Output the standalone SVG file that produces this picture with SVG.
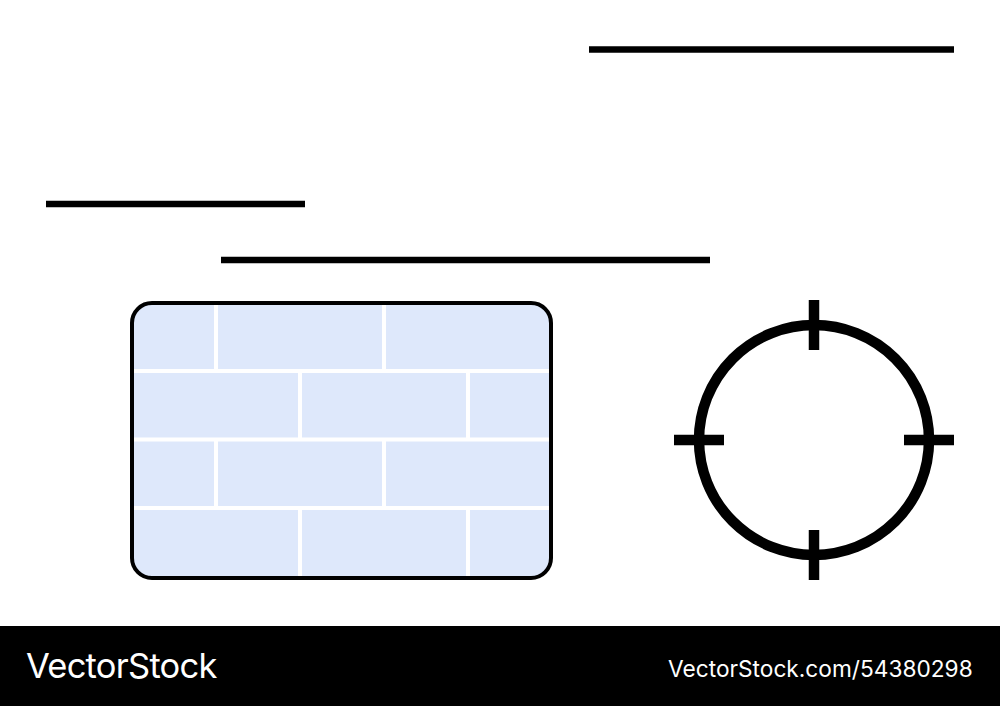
<svg xmlns="http://www.w3.org/2000/svg" width="1000" height="706" viewBox="0 0 1000 706">
<style>
.bar{stroke:#000;stroke-width:6.500;fill:none}
.tick{stroke:#000;stroke-width:10.500;fill:none}
.mortar{stroke:#fff;stroke-width:4;fill:none}
.wm{fill:#fff;font-family:Inter,"Liberation Sans",Arial,sans-serif}
</style>
<defs><clipPath id="wallClip"><rect x="132" y="303" width="419" height="275" rx="20"/></clipPath></defs>
<rect width="1000" height="706" fill="#fff"/>
<g id="lines">
<line class="bar" x1="589" y1="49.500" x2="954" y2="49.500"/>
<line class="bar" x1="46" y1="204" x2="305" y2="204"/>
<line class="bar" x1="221" y1="260" x2="710" y2="260"/>
</g>
<g id="wall">
<rect x="132" y="303" width="419" height="275" rx="20" fill="#dee8fb"/>
<g clip-path="url(#wallClip)">
<path class="mortar" d="M132 371H551M132 439.500H551M132 508H551M216 303V371M384 303V371M300 371V439.500M468 371V439.500M216 439.500V508M384 439.500V508M300 508V578M468 508V578"/>
</g>
<rect x="132" y="303" width="419" height="275" rx="20" fill="none" stroke="#000" stroke-width="4"/>
</g>
<g id="crosshair">
<circle cx="814" cy="440" r="115" fill="none" stroke="#000" stroke-width="10.500"/>
<path class="tick" d="M814 300V350M814 530V580M674 440H724M904 440H954"/>
</g>
<g id="footer">
<rect x="0" y="626" width="1000" height="80" fill="#000"/>
<text class="wm" x="26" y="678" font-size="34.500" letter-spacing="-0.75">VectorStock</text>
<text class="wm" x="668" y="677" font-size="22.700">VectorStock.com/54380298</text>
</g>
</svg>
